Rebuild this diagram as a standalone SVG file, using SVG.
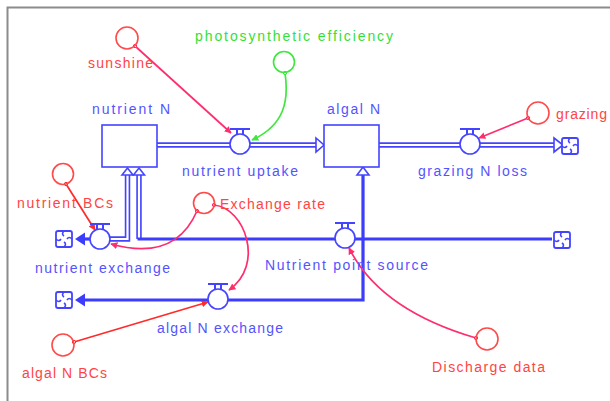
<svg xmlns="http://www.w3.org/2000/svg" width="610" height="401" viewBox="0 0 610 401">
  <style>
    .lbl { font-family: "Liberation Sans", Arial, sans-serif; font-size: 14px; }
    .tb { fill: #5454ff; }
    .tr { fill: #ff4444; }
    .tg { fill: #36e036; }
    .stock { fill: #ffffff; stroke: #4444ff; stroke-width: 1.6; }
    .valve { fill: #ffffff; stroke: #4444ff; stroke-width: 1.6; }
    .handle { fill: none; stroke: #4444ff; stroke-width: 2; }
    .conv { fill: none; stroke-width: 1.6; }
    .cr { stroke: #ff4a4a; }
    .cg { stroke: #3ee83e; }
    .pipe-o { fill: none; stroke: #4444ff; stroke-width: 5.5; }
    .pipe-i { fill: none; stroke: #ffffff; stroke-width: 2.2; }
    .flow { fill: none; stroke: #3c3cff; stroke-width: 3.2; }
    .head-open { fill: #ffffff; stroke: #4444ff; stroke-width: 1.6; }
    .head-fill { fill: #3c3cff; stroke: none; }
    .link { fill: none; stroke-width: 1.7; }
    .pink { stroke: #ff2d6e; }
    .red { stroke: #ff2a2a; }
    .green { stroke: #3ee83e; }
  </style>
  <defs>
    <symbol id="cloud" viewBox="-10 -9 20 18" width="20" height="18" overflow="visible">
      <path d="M-8,-6 q0,-2 2,-2 h12 q2,0 2,2 v12 q0,2 -2,2 h-12 q-2,0 -2,-2 z" fill="#ffffff" stroke="#4444ff" stroke-width="1.8"/>
      <path d="M0,-8 q-3,3 0,5 M8,0 q-3,-3 -5,0 M0,8 q3,-3 0,-5 M-8,0 q3,3 5,0" fill="none" stroke="#4444ff" stroke-width="1.6"/>
    </symbol>
    <g id="valveShape">
      <circle class="valve" cx="0" cy="0" r="10"/>
      <path class="handle" d="M-10,-15 H10 M-3,-15 V-10 M3,-15 V-10"/>
    </g>
    <marker id="arPink" viewBox="0 0 10 10" refX="9" refY="5" markerWidth="7" markerHeight="7" orient="auto" markerUnits="userSpaceOnUse">
      <path d="M0,0 L10,5 L0,10 z" fill="#ff2d6e"/>
    </marker>
    <marker id="arRed" viewBox="0 0 10 10" refX="9" refY="5" markerWidth="7" markerHeight="7" orient="auto" markerUnits="userSpaceOnUse">
      <path d="M0,0 L10,5 L0,10 z" fill="#ff2a2a"/>
    </marker>
    <marker id="arGreen" viewBox="0 0 10 10" refX="9" refY="5" markerWidth="7" markerHeight="7" orient="auto" markerUnits="userSpaceOnUse">
      <path d="M0,0 L10,5 L0,10 z" fill="#3ee83e"/>
    </marker>
    <marker id="dotPink" viewBox="0 0 6 6" refX="3" refY="3" markerWidth="5" markerHeight="5" markerUnits="userSpaceOnUse">
      <circle cx="3" cy="3" r="2" fill="#ffffff" stroke="#ff2d6e" stroke-width="1.2"/>
    </marker>
    <marker id="dotRed" viewBox="0 0 6 6" refX="3" refY="3" markerWidth="5" markerHeight="5" markerUnits="userSpaceOnUse">
      <circle cx="3" cy="3" r="2" fill="#ffffff" stroke="#ff2a2a" stroke-width="1.2"/>
    </marker>
    <marker id="dotGreen" viewBox="0 0 6 6" refX="3" refY="3" markerWidth="5" markerHeight="5" markerUnits="userSpaceOnUse">
      <circle cx="3" cy="3" r="2" fill="#ffffff" stroke="#3ee83e" stroke-width="1.2"/>
    </marker>
  </defs>

  <!-- canvas and frame -->
  <rect x="0" y="0" width="610" height="401" fill="#ffffff"/>
  <rect x="7.5" y="7.5" width="640" height="420" fill="#ffffff" stroke="#8c8c8c" stroke-width="2"/>

  <!-- material flows (pipes) and information links -->
  <g id="connectors">
    <!-- nutrient uptake: nutrient N -> algal N -->
    <path class="pipe-o" d="M157,145 H230 M250,145 H316"/>
    <path class="pipe-i" d="M157,145 H230 M250,145 H316"/>
    <polygon class="head-open" points="316,138 324,145 316,152"/>

    <!-- grazing N loss: algal N -> cloud -->
    <path class="pipe-o" d="M379,145 H460 M480,145 H556"/>
    <path class="pipe-i" d="M379,145 H460 M480,145 H556"/>
    <polygon class="head-open" points="554,138 563,145 554,152"/>

    <!-- nutrient exchange: nutrient N <-> left cloud -->
    <path class="pipe-o" d="M127.5,175 V239 H110"/>
    <path class="pipe-i" d="M127.5,175 V239 H110"/>
    <path class="flow" d="M90,239 H84"/>
    <polygon class="head-fill" points="75,239 85,232.5 85,245.5"/>
    <polygon class="head-open" points="122,175 127.5,168 133,175"/>

    <!-- nutrient point source: right cloud -> nutrient N -->
    <path class="pipe-o" d="M139,175 V239"/>
    <path class="pipe-i" d="M139,175 V239"/>
    <path class="flow" d="M137.5,239 H552"/>
    <polygon class="head-open" points="133.5,175 139,168 144.5,175"/>

    <!-- algal N exchange: algal N <-> left cloud -->
    <path class="flow" d="M363,175 V300 H228 M208,300 H84"/>
    <polygon class="head-fill" points="75,300 85,293.5 85,306.5"/>
    <polygon class="head-open" points="357,175 363,167 369,175"/>

    <!-- information links -->
    <path class="link pink" d="M135,46 L231,133" marker-start="url(#dotPink)" marker-end="url(#arPink)"/>
    <path class="link green" d="M285,73 C289,100 285,125 252,140" marker-start="url(#dotGreen)" marker-end="url(#arGreen)"/>
    <path class="link pink" d="M528,118 L479,138" marker-start="url(#dotPink)" marker-end="url(#arPink)"/>
    <path class="link red" d="M66,184 L95,230" marker-start="url(#dotRed)" marker-end="url(#arRed)"/>
    <path class="link pink" d="M197,211 Q175,262 111,244" marker-start="url(#dotPink)" marker-end="url(#arPink)"/>
    <path class="link pink" d="M214,205 C245,208 265,265 229,290" marker-start="url(#dotPink)" marker-end="url(#arPink)"/>
    <path class="link red" d="M74,342 L208,302" marker-start="url(#dotRed)" marker-end="url(#arRed)"/>
    <path class="link pink" d="M476,338 Q380,310 349,248" marker-start="url(#dotPink)" marker-end="url(#arPink)"/>
  </g>

  <!-- sources and sinks -->
  <g id="clouds">
    <use href="#cloud" x="560" y="137"/>
    <use href="#cloud" x="552" y="231"/>
    <use href="#cloud" x="54" y="230"/>
    <use href="#cloud" x="54" y="291"/>
  </g>

  <!-- stocks -->
  <g id="nutrient-N">
    <rect class="stock" x="102" y="125" width="55" height="42"/>
    <text class="lbl tb" x="92" y="114" textLength="78" lengthAdjust="spacing">nutrient N</text>
  </g>
  <g id="algal-N">
    <rect class="stock" x="324" y="125" width="55" height="42"/>
    <text class="lbl tb" x="327" y="114" textLength="53" lengthAdjust="spacing">algal N</text>
  </g>

  <!-- flow valves -->
  <g id="nutrient-uptake">
    <use href="#valveShape" transform="translate(240,144)"/>
    <text class="lbl tb" x="182" y="176" textLength="116" lengthAdjust="spacing">nutrient uptake</text>
  </g>
  <g id="grazing-N-loss">
    <use href="#valveShape" transform="translate(470,144)"/>
    <text class="lbl tb" x="418" y="176" textLength="109" lengthAdjust="spacing">grazing N loss</text>
  </g>
  <g id="nutrient-exchange">
    <use href="#valveShape" transform="translate(100,239)"/>
    <text class="lbl tb" x="35" y="273" textLength="135" lengthAdjust="spacing">nutrient exchange</text>
  </g>
  <g id="nutrient-point-source">
    <use href="#valveShape" transform="translate(345,238)"/>
    <text class="lbl tb" x="265" y="270" textLength="163" lengthAdjust="spacing">Nutrient point source</text>
  </g>
  <g id="algal-N-exchange">
    <use href="#valveShape" transform="translate(218,299)"/>
    <text class="lbl tb" x="157" y="333" textLength="126" lengthAdjust="spacing">algal N exchange</text>
  </g>

  <!-- converters -->
  <g id="sunshine">
    <circle class="conv cr" cx="127" cy="38" r="11"/>
    <text class="lbl tr" x="88" y="68" textLength="65" lengthAdjust="spacing">sunshine</text>
  </g>
  <g id="photosynthetic-efficiency">
    <circle class="conv cg" cx="284" cy="62" r="10.5"/>
    <text class="lbl tg" x="195" y="41" textLength="198" lengthAdjust="spacing">photosynthetic efficiency</text>
  </g>
  <g id="grazing">
    <circle class="conv cr" cx="538" cy="113" r="11"/>
    <text class="lbl tr" x="556" y="119" textLength="51" lengthAdjust="spacing">grazing</text>
  </g>
  <g id="nutrient-BCs">
    <circle class="conv cr" cx="63" cy="174" r="10.5"/>
    <text class="lbl tr" x="17" y="208" textLength="96" lengthAdjust="spacing">nutrient BCs</text>
  </g>
  <g id="exchange-rate">
    <circle class="conv cr" cx="204" cy="203" r="10.5"/>
    <text class="lbl tr" x="220" y="209" textLength="105" lengthAdjust="spacing">Exchange rate</text>
  </g>
  <g id="algal-N-BCs">
    <circle class="conv cr" cx="63" cy="345" r="11"/>
    <text class="lbl tr" x="22" y="378" textLength="85" lengthAdjust="spacing">algal N BCs</text>
  </g>
  <g id="discharge-data">
    <circle class="conv cr" cx="487" cy="339" r="11"/>
    <text class="lbl tr" x="432" y="372" textLength="113" lengthAdjust="spacing">Discharge data</text>
  </g>
</svg>
